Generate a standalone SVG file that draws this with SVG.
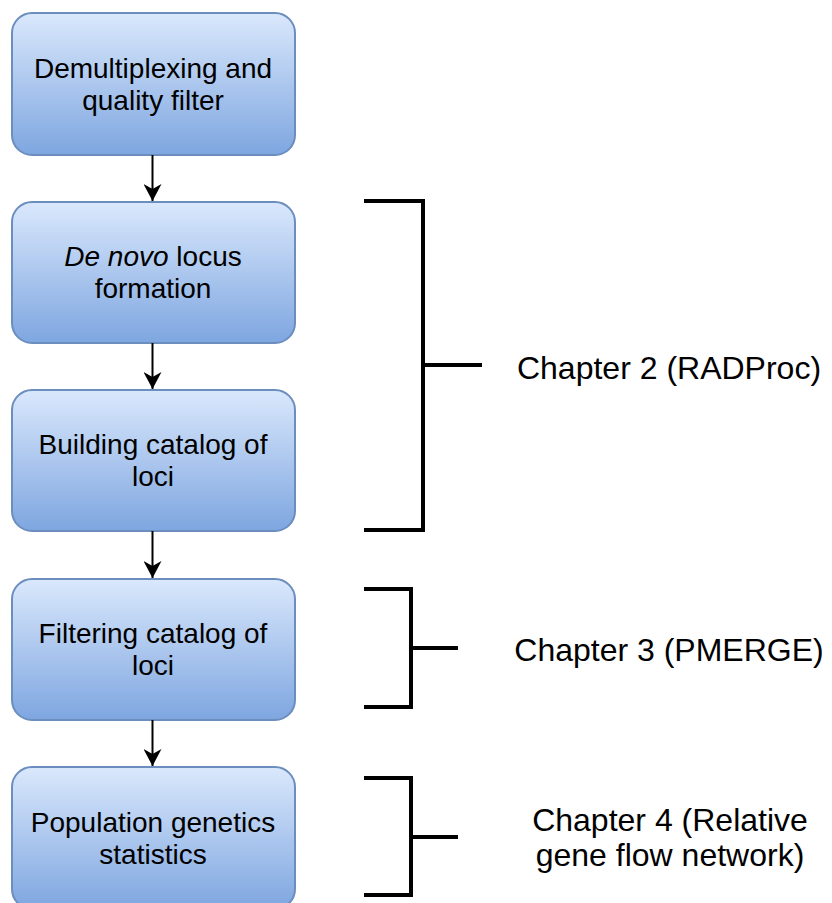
<svg xmlns="http://www.w3.org/2000/svg" width="832" height="903" viewBox="0 0 832 903">
  <defs>
    <linearGradient id="boxFill" x1="0" y1="0" x2="0" y2="1">
      <stop offset="0" stop-color="#dae8fc"/>
      <stop offset="1" stop-color="#7ea6e0"/>
    </linearGradient>
    <marker id="arrowHead" viewBox="0 0 17 18" refX="17" refY="9" markerWidth="17" markerHeight="18" markerUnits="userSpaceOnUse" orient="auto">
      <path d="M0,0 L17,9 L0,18 L5,9 Z" fill="#000"/>
    </marker>
    <style>
      .box { fill: url(#boxFill); stroke: #6c8ebf; stroke-width: 2; }
      .label { font-family: "Liberation Sans", Arial, sans-serif; font-size: 28px; fill: #000; text-anchor: middle; }
      .chapter { font-family: "Liberation Sans", Arial, sans-serif; font-size: 32px; fill: #000; text-anchor: middle; }
      .flow { stroke: #000; stroke-width: 2; fill: none; }
      .bracket { stroke: #000; stroke-width: 4; fill: none; }
    </style>
  </defs>

  <rect width="832" height="903" fill="#ffffff"/>

  <!-- pipeline steps -->
  <g id="step-demultiplex">
    <rect class="box" x="12" y="13" width="283" height="142" rx="20" ry="20"/>
    <text class="label" x="153" y="78">Demultiplexing and</text>
    <text class="label" x="153" y="110">quality filter</text>
  </g>
  <g id="step-denovo">
    <rect class="box" x="12" y="202" width="283" height="141" rx="20" ry="20"/>
    <text class="label" x="153" y="266"><tspan font-style="italic">De novo</tspan> locus</text>
    <text class="label" x="153" y="298">formation</text>
  </g>
  <g id="step-catalog">
    <rect class="box" x="12" y="390" width="283" height="141" rx="20" ry="20"/>
    <text class="label" x="153" y="454">Building catalog of</text>
    <text class="label" x="153" y="486">loci</text>
  </g>
  <g id="step-filter">
    <rect class="box" x="12" y="579" width="283" height="141" rx="20" ry="20"/>
    <text class="label" x="153" y="643">Filtering catalog of</text>
    <text class="label" x="153" y="675">loci</text>
  </g>
  <g id="step-popgen">
    <rect class="box" x="12" y="767" width="283" height="142" rx="20" ry="20"/>
    <text class="label" x="153" y="832">Population genetics</text>
    <text class="label" x="153" y="864">statistics</text>
  </g>

  <!-- flow arrows between steps -->
  <g id="connectors">
    <line class="flow" x1="152.5" y1="155" x2="152.5" y2="201" marker-end="url(#arrowHead)"/>
    <line class="flow" x1="152.5" y1="343" x2="152.5" y2="389" marker-end="url(#arrowHead)"/>
    <line class="flow" x1="152.5" y1="531" x2="152.5" y2="578" marker-end="url(#arrowHead)"/>
    <line class="flow" x1="152.5" y1="720" x2="152.5" y2="766" marker-end="url(#arrowHead)"/>
  </g>

  <!-- chapter brackets -->
  <g id="chapter-2">
    <path class="bracket" d="M364,201 H423 V530 H364 M423,365 H482"/>
    <text class="chapter" x="669" y="379">Chapter 2 (RADProc)</text>
  </g>
  <g id="chapter-3">
    <path class="bracket" d="M364,589 H411 V707 H364 M411,648 H458"/>
    <text class="chapter" x="669" y="661">Chapter 3 (PMERGE)</text>
  </g>
  <g id="chapter-4">
    <path class="bracket" d="M364,778 H411 V895 H364 M411,837 H458"/>
    <text class="chapter" x="670" y="831">Chapter 4 (Relative</text>
    <text class="chapter" x="670" y="866">gene flow network)</text>
  </g>
</svg>
